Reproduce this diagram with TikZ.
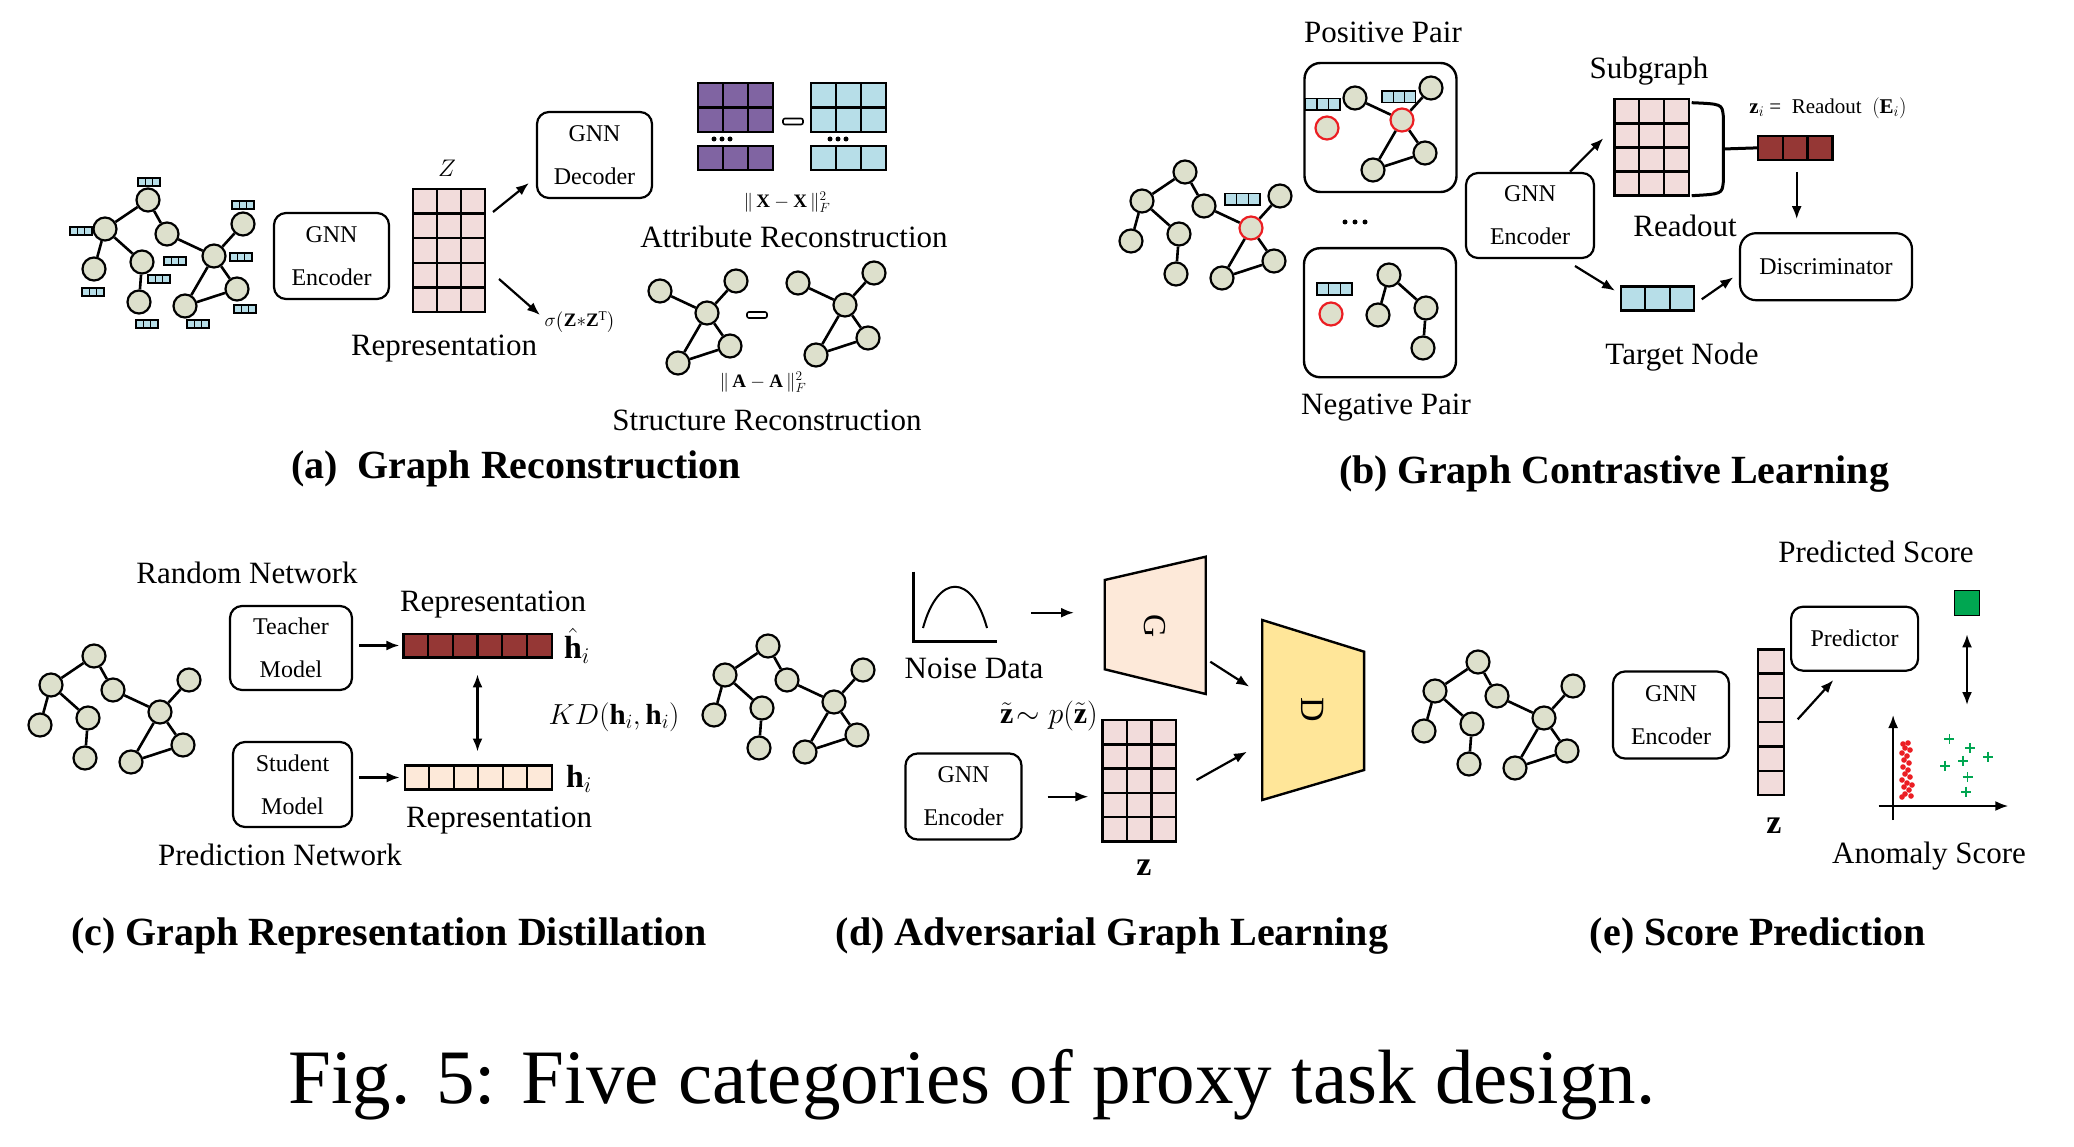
\RequirePackage{fix-cm}
\documentclass[tikz,border=0pt]{standalone}
\usepackage{amsmath}
\usepackage{fontspec}
\setmainfont{Liberation Serif}
\usetikzlibrary{arrows.meta}

\definecolor{nodefill}{RGB}{221,224,204}
\definecolor{featblue}{RGB}{183,222,232}
\definecolor{cellpink}{RGB}{242,220,219}
\definecolor{attrpurple}{RGB}{128,100,162}
\definecolor{readred}{RGB}{149,55,53}
\definecolor{peach}{RGB}{253,233,217}
\definecolor{discyellow}{RGB}{255,230,153}
\definecolor{scoregreen}{RGB}{0,166,81}
\definecolor{anchorred}{RGB}{235,30,35}

% grid of cells: name, left, top, cols, rows, cell width, cell height, style
\newcommand{\cellgrid}[8]{%
  \node[inner sep=0pt, outer sep=0pt, minimum width={#4*#6pt}, minimum height={#5*#7pt},
        anchor=north west] (#1) at (#2,#3) {};
  \foreach \ci in {1,...,#4}{\foreach \ri in {1,...,#5}{%
    \draw[#8] ({#2+(\ci-1)*#6},{#3+(\ri-1)*#7}) rectangle ++(#6,#7);}}}

% right half of the toy graph, placed by its hub
\newcommand{\hubpart}[3]{%
  \begin{scope}[shift={(#2)}]
    \node[gnode,#3] (#1hub) at (0,0) {};
    \node[gnode] (#1mu) at (-47,-22) {};
    \node[gnode] (#1tr) at (29,-32) {};
    \node[gnode] (#1rl) at (23,33) {};
    \node[gnode] (#1br) at (-29,50) {};
  \end{scope}
  \draw[edge] (#1mu) -- (#1hub) -- (#1tr) (#1hub) -- (#1rl) -- (#1br) -- (#1hub);}

% left half of the toy graph, same reference point
\newcommand{\leafpart}[2]{%
  \begin{scope}[shift={(#2)}]
    \node[gnode] (#1lu) at (-109,-27) {};
    \node[gnode] (#1ll) at (-120,13) {};
    \node[gnode] (#1ml) at (-72,6) {};
    \node[gnode] (#1bot) at (-75,46) {};
  \end{scope}
  \draw[edge] (#1ll) -- (#1lu) -- (#1ml) -- (#1bot);}

\newcommand{\toygraph}[3]{%
  \hubpart{#1}{#2}{#3}\leafpart{#1}{#2}%
  \begin{scope}[shift={(#2)}]\node[gnode] (#1top) at (-66,-56) {};\end{scope}
  \draw[edge] (#1lu) -- (#1top) -- (#1mu);}

\begin{document}
\begin{tikzpicture}[
  x=1pt, y=-1pt,
  gnode/.style      = {circle, draw, line width=2.2pt, fill=nodefill, minimum size=23pt, inner sep=0pt},
  anchornode/.style = {draw=anchorred},
  edge/.style       = {line width=2.6pt},
  box/.style        = {draw, line width=2.2pt, rounded corners=12pt, align=center, inner sep=0pt,
                       font=\fontsize{24}{43}\selectfont},
  pairbox/.style    = {draw, line width=2.4pt, rounded corners=16pt, minimum width=152pt, minimum height=129pt},
  arrow/.style      = {line width=2.2pt, -{Latex[length=13pt,width=10pt]}},
  twoway/.style     = {line width=2.2pt, {Latex[length=13pt,width=10pt]}-{Latex[length=13pt,width=10pt]}},
  lbl/.style        = {inner sep=0pt, font=\fontsize{31}{36}\selectfont},
  mathlbl/.style    = {inner sep=0pt, font=\fontsize{19}{22}\selectfont},
  subcap/.style     = {inner sep=0pt, font=\fontsize{40}{46}\selectfont\bfseries},
  featcell/.style   = {draw, line width=1.4pt, fill=featblue},
  pinkcell/.style   = {draw, line width=2.4pt, fill=cellpink},
  purplecell/.style = {draw, line width=2.4pt, fill=attrpurple},
  bluecell/.style   = {draw, line width=2.4pt, fill=featblue},
  redcell/.style    = {draw, line width=2.2pt, fill=readred},
  peachcell/.style  = {draw, line width=2.2pt, fill=peach},
  dot/.style        = {fill, circle, inner sep=0pt, minimum size=5pt},
]
\useasboundingbox (0,0) rectangle (2074,1147);

% ---------- (a) graph reconstruction
\toygraph{a}{214,256}{}
\foreach \fx/\fy [count=\k] in {138/178, 70/227, 164/257, 148/275, 82/288,
                                136/320, 187/320, 230/253, 232/201, 234/305}
  {\cellgrid{fa\k}{\fx}{\fy}{3}{1}{7.3}{8}{featcell}}
\node[box, minimum width=115pt, minimum height=86pt] (aenc) at (331.5,256) {GNN\\Encoder};
\cellgrid{az}{413}{189}{3}{5}{24}{24.6}{pinkcell}
\node[inner sep=0pt, font=\fontsize{24}{28}\selectfont] (azlab) at (447,168) {$Z$};
\node[lbl] (arep) at (444,349) {Representation};
\node[box, minimum width=115pt, minimum height=86pt] (adec) at (594.5,155) {GNN\\Decoder};
\coordinate (aup1) at (493,212);  \coordinate (aup2) at (529,183);
\coordinate (adn1) at (499,279);  \coordinate (adn2) at (540,315);
\draw[arrow] (aup1) -- (aup2);
\draw[arrow] (adn1) -- (adn2);
\node[mathlbl] (asig) at (580,322) {$\sigma\!\left(\mathbf{Z}{*}\mathbf{Z}^{\mathrm{T}}\right)$};

\cellgrid{ax1}{698}{83}{3}{2}{25}{24.5}{purplecell}
\cellgrid{ax2}{698}{146}{3}{1}{25}{24}{purplecell}
\cellgrid{ax3}{811}{83}{3}{2}{25}{24.5}{bluecell}
\cellgrid{ax4}{811}{146}{3}{1}{25}{24}{bluecell}
\foreach \d in {0,1,2} {\node[dot] (axd\d) at (714+8*\d,139) {}; \node[dot] (ayd\d) at (830+8*\d,139) {};}
\draw[line width=1.6pt, rounded corners=2pt] (783,118.5) rectangle (803,124.5);
\node[mathlbl] (axnorm) at (787,202) {$\Vert\,\mathbf{X}-\mathbf{X}\,\Vert_F^2$};
\node[lbl] (aattr) at (794,237) {Attribute Reconstruction};

\hubpart{sl}{707,313}{}
\hubpart{sr}{845,305}{}
\draw[line width=1.6pt, rounded corners=2pt] (747,312) rectangle (767,318);
\node[mathlbl] (aanorm) at (763,382) {$\Vert\,\mathbf{A}-\mathbf{A}\,\Vert_F^2$};
\node[lbl] (astruct) at (767,420) {Structure Reconstruction};
\node[subcap] (acap) at (516,469) {(a)\ \ Graph Reconstruction};

% ---------- (b) graph contrastive learning
\toygraph{b}{1251,228}{anchornode}
\cellgrid{fb}{1225}{193.5}{3}{1}{11.7}{11.5}{featcell}
\node[pairbox] (pos) at (1380.5,127.5) {};
\node[pairbox] (neg) at (1380,312.7) {};
\hubpart{p}{1402,120}{anchornode}
\node[gnode,anchornode] (pa) at (1327,128) {};
\cellgrid{fp1}{1305.7}{98.7}{3}{1}{11.4}{11.3}{featcell}
\cellgrid{fp2}{1382}{91}{3}{1}{11.2}{11.3}{featcell}
\leafpart{n}{1498,302}
\node[gnode,anchornode] (na) at (1331,314) {};
\cellgrid{fn}{1317}{283}{3}{1}{11.7}{12}{featcell}
\foreach \d in {0,1,2} {\node[dot] (bd\d) at (1345+10*\d,222) {};}
\node[lbl] (bpos) at (1383,32) {Positive Pair};
\node[lbl] (bneg) at (1386,408) {Negative Pair};
\node[box, minimum width=128pt, minimum height=85pt] (benc) at (1530,215.5) {GNN\\Encoder};
\cellgrid{bsub}{1614.3}{99.3}{3}{4}{24.8}{24.1}{pinkcell}
\node[lbl] (bsublab) at (1649,71) {Subgraph};
\draw[line width=3pt] (1691.7,102.7) .. controls (1722,104) .. (1723.3,116) -- (1723.3,182)
  .. controls (1722,194) .. (1691.7,195.7);
\cellgrid{bread}{1757.7}{135.7}{3}{1}{24.9}{24.3}{redcell}
\draw[line width=3pt] (1723.3,149) -- (bread.west);
\node[inner sep=0pt, font=\fontsize{21}{24}\selectfont] (bzi) at (1828,108)
  {$\mathbf{z}_i$ = \ Readout \ $\left(\mathbf{E}_i\right)$};
\node[lbl] (bro) at (1685,226) {Readout};
\node[box, minimum width=172pt, minimum height=67pt, rounded corners=16pt] (bdisc) at (1826,266.7) {Discriminator};
\cellgrid{btgt}{1620.7}{286.7}{3}{1}{24.5}{24}{bluecell}
\node[lbl] (btgtlab) at (1682,357) {Target Node};
\coordinate (bup1) at (1570,171.7);   \coordinate (bup2) at (1603.3,138.3);
\coordinate (bdn1) at (1575,266);     \coordinate (bdn2) at (1615,290.7);
\coordinate (btd1) at (1701.7,299.3); \coordinate (btd2) at (1733.3,277.3);
\draw[arrow] (bup1) -- (bup2);
\draw[arrow] (bdn1) -- (bdn2);
\draw[arrow] (btd1) -- (btd2);
\draw[arrow, shorten <=12pt, shorten >=13pt] (bread.south -| 1796.7,0) -- (bdisc.north -| 1796.7,0);
\node[subcap] (bcap) at (1614,474) {(b) Graph Contrastive Learning};

% ---------- (c) graph representation distillation
\toygraph{c}{160,712}{}
\node[lbl] (crand) at (247,573) {Random Network};
\node[box, minimum width=122pt, minimum height=84pt] (cteach) at (291,648) {Teacher\\Model};
\node[box, minimum width=119pt, minimum height=85pt] (cstud) at (292.5,784.5) {Student\\Model};
\node[lbl] (cpred) at (280,855) {Prediction Network};
\cellgrid{cht}{403.4}{633.6}{6}{1}{24.7}{23.8}{redcell}
\cellgrid{chs}{404.7}{765.5}{6}{1}{24.5}{24}{peachcell}
\draw[arrow, shorten <=6pt, shorten >=4pt] (cteach.east |- cht.west) -- (cht.west);
\draw[arrow, shorten <=6pt, shorten >=5pt] (cstud.east |- chs.west) -- (chs.west);
\draw[twoway, shorten <=17pt, shorten >=14pt] (cht.south -| 477.5,0) -- (chs.north -| 477.5,0);
\node[lbl] (crep1) at (493,605) {Representation};
\node[lbl] (crep2) at (499,821) {Representation};
\node[inner sep=0pt, font=\fontsize{32}{36}\selectfont] (chhat) at (577,646) {$\hat{\mathbf{h}}_i$};
\node[inner sep=0pt, font=\fontsize{32}{36}\selectfont] (chi) at (579,779) {$\mathbf{h}_i$};
\node[inner sep=0pt, font=\fontsize{29}{34}\selectfont] (ckd) at (614,717) {$KD\!\left(\mathbf{h}_i,\mathbf{h}_i\right)$};
\node[subcap] (ccap) at (389,936) {(c) Graph Representation Distillation};

% ---------- (d) adversarial graph learning
\toygraph{d}{834,702}{}
\draw[line width=3pt] (913,571.7) -- (913,641.7) -- (997,641.7);
\draw[line width=2pt] (923,628) .. controls (938,573) and (972,573) .. (987,628);
\node[lbl] (dnoise) at (974,668) {Noise Data};
\draw[line width=2.4pt, fill=peach] (1104.7,580) -- (1205.7,556.7) -- (1205.7,694) -- (1104.7,669.3) -- cycle;
\node[rotate=-90, inner sep=0pt, font=\fontsize{32}{36}\selectfont] (dgen) at (1155,626) {G};
\draw[line width=2.4pt, fill=discyellow] (1262.2,620) -- (1364.1,651.7) -- (1364.1,770) -- (1262.2,800) -- cycle;
\node[rotate=-90, inner sep=0pt, font=\fontsize{34}{38}\selectfont] (ddis) at (1313,710) {D};
\node[inner sep=0pt, font=\fontsize{30}{34}\selectfont] (dztil) at (1049,716) {$\tilde{\mathbf{z}}\!\sim p(\tilde{\mathbf{z}})$};
\cellgrid{dz}{1102.4}{720}{3}{5}{24.5}{24.3}{pinkcell}
\node[inner sep=0pt, font=\fontsize{34}{38}\selectfont] (dzlab) at (1144,868) {$\mathbf{z}$};
\node[box, minimum width=116pt, minimum height=86pt] (denc) at (963.5,796.5) {GNN\\Encoder};
\coordinate (dn1) at (1031.2,612.7); \coordinate (dn2) at (1074,612.7);
\coordinate (dg1) at (1210.3,661.7); \coordinate (dg2) at (1249.3,686.7);
\coordinate (dz1) at (1196.5,780);   \coordinate (dz2) at (1247,751.7);
\draw[arrow] (dn1) -- (dn2);
\draw[arrow] (dg1) -- (dg2);
\draw[arrow, shorten <=25pt, shorten >=14pt] (denc.east |- 0,796.7) -- (dz.west |- 0,796.7);
\draw[arrow] (dz1) -- (dz2);
\node[subcap] (dcap) at (1112,936) {(d) Adversarial Graph Learning};

% ---------- (e) score prediction
\toygraph{e}{1544,718}{}
\node[box, minimum width=116pt, minimum height=87pt] (eenc) at (1671,715) {GNN\\Encoder};
\cellgrid{ez}{1758}{649.3}{1}{6}{26}{24.3}{pinkcell}
\node[inner sep=0pt, font=\fontsize{34}{38}\selectfont] (ezlab) at (1774,826) {$\mathbf{z}$};
\node[box, minimum width=127pt, minimum height=64pt] (epred) at (1854.6,638.7) {Predictor};
\coordinate (ep1) at (1797.7,719.3); \coordinate (ep2) at (1833.4,680);
\draw[arrow] (ep1) -- (ep2);
\node[lbl] (escore) at (1876,552) {Predicted Score};
\node[draw, line width=1.6pt, fill=scoregreen, minimum size=25pt, inner sep=0pt] (esq) at (1967,603) {};
\draw[twoway, shorten <=18pt] (esq.south) -- (esq.south |- 0,705);
\coordinate (eo) at (1893.1,806);
\draw[arrow] (eo |- 0,820) -- (eo |- 0,715);
\draw[arrow] (1878.5,806) -- (2008.3,806);
\foreach \px/\py in {1903/744,1908/743,1905/748,1910/750,1902/753,1907/756,1904/760,1909/763,
                     1903/767,1908/770,1905/774,1910/777,1902/780,1907/783,1904/787,1909/790,
                     1905/794,1911/796,1902/797,1912/785}
  {\fill[anchorred] (\px,\py) circle (2.8);}
\foreach \px/\py in {1949.4/739,1969.8/748.3,1988.1/756.7,1945.2/765.7,1963.2/760.7,1967.5/777.3,1966.2/791.7}
  {\draw[scoregreen, line width=1.8pt] (\px-5,\py) -- (\px+5,\py) (\px,\py-5) -- (\px,\py+5);}
\node[lbl] (eanom) at (1929,856) {Anomaly Score};
\node[subcap] (ecap) at (1758,936) {(e) Score Prediction};

% ---------- caption
\node[inner sep=0pt, font=\fontsize{77}{90}\selectfont] (figcap) at (972,1085) {Fig. 5: Five categories of proxy task design.};
\end{tikzpicture}
\end{document}
